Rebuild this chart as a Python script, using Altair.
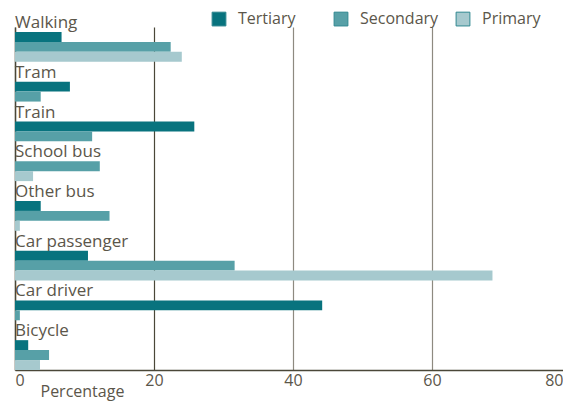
import altair as alt
import pandas as pd

categories = ["Walking", "Tram", "Train", "School bus", "Other bus",
              "Car passenger", "Car driver", "Bicycle"]
levels = ["Tertiary", "Secondary", "Primary"]
tertiary = [6.7, 7.9, 25.8, None, 3.7, 10.5, 44.2, 1.9]
secondary = [22.4, 3.7, 11.1, 12.2, 13.6, 31.6, 0.7, 4.9]
primary = [24.0, None, None, 2.6, 0.7, 68.7, None, 3.6]
x_ticks = [0, 20, 40, 60, 80]
colors = ["#08737e", "#57a0a7", "#a6c9ce"]

# layout rows: bars stacked per category, missing bars collapsed
series = {"Tertiary": tertiary, "Secondary": secondary, "Primary": primary}
bar_rows, label_rows = [], []
row = 0
for i, cat in enumerate(categories):
    if i > 0:
        row += 2
    label_rows.append({"category": cat, "ly": row - 1})
    for lev in levels:
        v = series[lev][i]
        if v is not None:
            bar_rows.append({"category": cat, "level": lev, "value": v,
                             "top": row, "bottom": row + 1})
            row += 1

bars_df = pd.DataFrame(bar_rows)
labels_df = pd.DataFrame(label_rows)

FONT = "Open Sans"
TXT = "#5b564a"
DARK = "#4a4738"

yscale = alt.Scale(domain=[-0.5, row], reverse=True, nice=False, zero=False)

bars = alt.Chart(bars_df).mark_bar().encode(
    x=alt.X("value:Q",
            scale=alt.Scale(domain=[0, 80], nice=False),
            axis=alt.Axis(values=x_ticks, grid=True, ticks=False,
                          gridColor={"condition": {"test": "datum.value == 20", "value": DARK},
                                     "value": "#8e8a80"},
                          gridWidth=1.2,
                          domainColor=DARK, domainWidth=1.5,
                          labelFont=FONT, labelFontSize=16, labelColor=TXT,
                          labelFlush=True, labelPadding=2,
                          labelOffset={"condition": {"test": "datum.value == 80", "value": -8},
                                       "value": 0},
                          title="Percentage", titleFont=FONT, titleFontSize=16,
                          titleFontWeight="normal", titleColor=TXT,
                          titleAnchor="start", titleAlign="left",
                          titleX=25, titleY=26, titleBaseline="alphabetic")),
    x2=alt.datum(0),
    y=alt.Y("top:Q", scale=yscale,
            axis=alt.Axis(labels=False, ticks=False, grid=False, title=None,
                          domain=True, domainColor=DARK, domainWidth=1.5)),
    y2="bottom:Q",
    color=alt.Color("level:N",
                    scale=alt.Scale(domain=levels, range=colors),
                    legend=alt.Legend(title=None, orient="none", direction="horizontal",
                                      legendX=196, legendY=-16,
                                      symbolType="square", symbolSize=190,
                                      symbolStrokeColor="#2f8790", symbolStrokeWidth=1,
                                      symbolOpacity=1, gridAlign="all",
                                      labelFont=FONT, labelFontSize=16, labelColor=TXT,
                                      labelOffset=11, columnPadding=15)),
)

labels = alt.Chart(labels_df).mark_text(
    align="left", baseline="middle", font=FONT, fontSize=17, color=TXT, dy=1
).encode(
    x=alt.value(0),
    y=alt.Y("ly:Q", scale=yscale),
    text="category:N",
)

chart = (bars + labels).properties(
    width=556, height=343,
    autosize=alt.AutoSizeParams(type="none"),
    padding={"left": 7, "top": 19, "right": -8, "bottom": 32},
).configure_view(stroke=None)

chart.save("out.html", embed_options={"renderer": "svg", "actions": False})
